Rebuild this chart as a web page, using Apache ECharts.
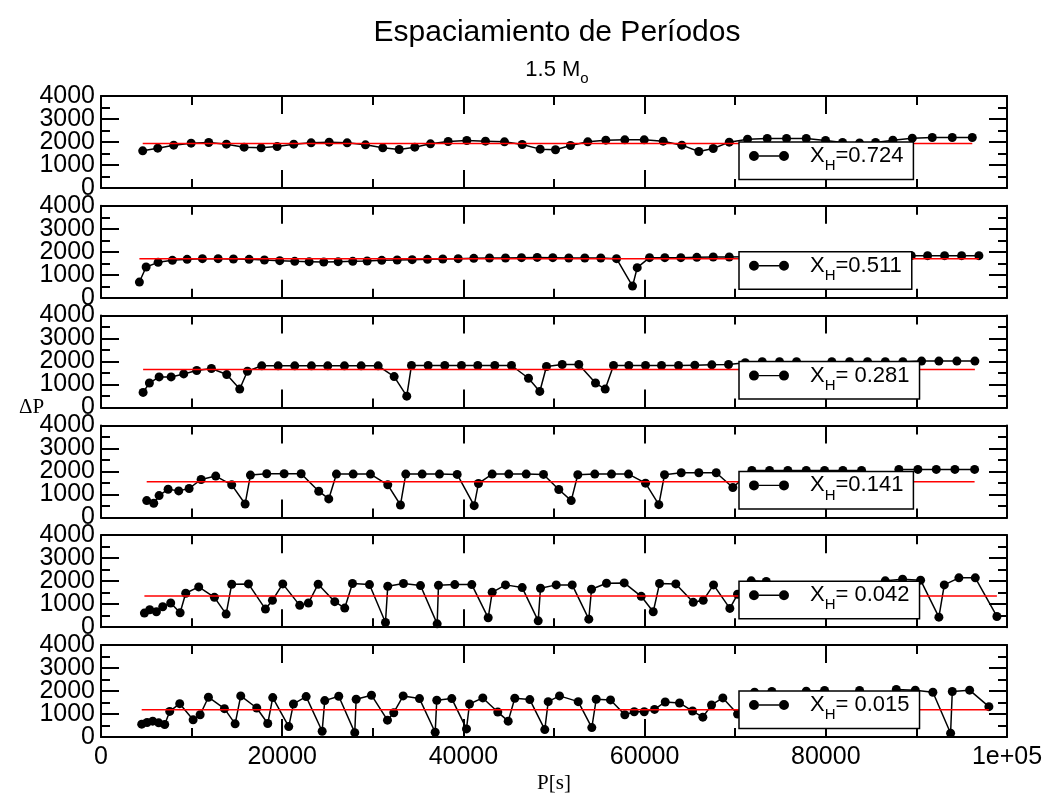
<!DOCTYPE html>
<html>
<head>
<meta charset="utf-8">
<script src="https://cdn.jsdelivr.net/npm/echarts@6/dist/echarts.min.js"></script>
<style>
html, body { margin: 0; padding: 0; background: #fff; }
#chart { width: 1049px; height: 801px; }
</style>
</head>
<body>
<div id="chart"></div>
<script>
// Hydrogen abundance of each model (legend labels)
const xhLabels = ['0.724', '0.511', ' 0.281', '0.141', ' 0.042', ' 0.015'];

// Mean period spacing of each model (red reference line)
const meanSpacing = [1935, 1702, 1655, 1548, 1358, 1180];

// Tick labels
const xTickLabels = ['0', '20000', '40000', '60000', '80000', '1e+05'];
const yTicksEven = [0, 2000, 4000];
const yTicksOdd = [1000, 3000];

// Periods P[s] and period spacings ΔP for each model
const periods1 = [4604, 6260, 8026, 9947, 11890, 13844, 15798, 17675, 19441, 21274, 23195, 25182, 27169, 29190, 31100, 32910, 34632, 36366, 38320, 40373, 42438, 44535, 46489, 48477, 50166, 51822, 53732, 55719, 57816, 59958, 62056, 64109, 65986, 67576, 69342, 71363, 73537, 75668, 77843, 79974, 81851, 83727, 85494, 87404, 89545, 91753, 93961, 96169];
const spacing1 = [1617, 1733, 1863, 1949, 1978, 1906, 1776, 1747, 1805, 1906, 1964, 1993, 1964, 1877, 1747, 1675, 1776, 1921, 2022, 2065, 2036, 2007, 1892, 1690, 1661, 1848, 2007, 2079, 2094, 2094, 2036, 1863, 1588, 1718, 1993, 2123, 2152, 2152, 2152, 2065, 1980, 1960, 1978, 2079, 2166, 2195, 2195, 2195];

const periods2 = [4239, 4979, 6304, 7883, 9505, 11195, 12928, 14617, 16350, 18039, 19728, 21384, 22974, 24586, 26176, 27788, 29377, 30989, 32689, 34345, 36035, 37724, 39424, 41146, 42879, 44646, 46412, 48145, 49868, 51634, 53400, 55167, 56900, 58667, 59185, 60543, 62233, 64000, 65765, 67576, 69342, 71164, 72996, 74818, 76651, 78472, 80305, 82127, 83959, 85781, 87613, 89435, 91235, 93111, 94988, 96898];
const spacing2 = [684, 1339, 1542, 1630, 1673, 1702, 1702, 1688, 1673, 1644, 1615, 1586, 1571, 1557, 1571, 1586, 1600, 1630, 1644, 1659, 1673, 1688, 1702, 1717, 1731, 1731, 1746, 1755, 1745, 1731, 1731, 1731, 1702, 509, 1309, 1746, 1746, 1746, 1760, 1775, 1775, 1780, 1785, 1790, 1795, 1800, 1805, 1810, 1815, 1820, 1825, 1833, 1833, 1833, 1833, 1833];

const periods3 = [4648, 5343, 6414, 7739, 9130, 10565, 12188, 13877, 15312, 16163, 17741, 19552, 21384, 23228, 25028, 26871, 28715, 30592, 32358, 33749, 34268, 36112, 37944, 39788, 41588, 43464, 45308, 47185, 48432, 49172, 50905, 52738, 54582, 55653, 56569, 58258, 60102, 61868, 63745, 65544, 67421, 69265, 71109, 72985, 74895, 76772, 78649, 80669, 82623, 84611, 86565, 88508, 90572, 92482, 94469, 96456];
const spacing3 = [659, 1069, 1333, 1333, 1465, 1612, 1699, 1436, 806, 1582, 1817, 1817, 1817, 1817, 1817, 1817, 1817, 1817, 1348, 498, 1831, 1831, 1831, 1831, 1831, 1831, 1831, 1275, 703, 1787, 1875, 1875, 1069, 806, 1831, 1831, 1831, 1831, 1831, 1846, 1860, 1875, 1950, 1992, 1992, 1992, 1700, 1992, 1992, 1992, 1992, 1992, 2022, 2022, 2022, 2022];

const periods4 = [5045, 5818, 6414, 7408, 8578, 9726, 11051, 12663, 14429, 15909, 16494, 18293, 20214, 22091, 24034, 25138, 25988, 27832, 29742, 31652, 33054, 33639, 35449, 37359, 39313, 41190, 41665, 43177, 45010, 46931, 48841, 50530, 51899, 52628, 54504, 56348, 58225, 60102, 61570, 62199, 64043, 65986, 67907, 69740, 71837, 73791, 75812, 77843, 79863, 81884, 83948, 86013, 88066, 90164, 92195, 94248, 96423];
const spacing4 = [730, 613, 949, 1226, 1153, 1256, 1650, 1796, 1416, 584, 1840, 1898, 1898, 1898, 1139, 803, 1883, 1883, 1883, 1416, 540, 1883, 1883, 1883, 1869, 511, 1475, 1883, 1883, 1883, 1869, 1212, 730, 1854, 1883, 1883, 1883, 1489, 555, 1854, 1942, 1942, 1942, 1299, 2044, 2044, 2044, 2044, 2044, 2044, 2044, 1400, 2088, 2088, 2088, 2088, 2088];

const periods5 = [4791, 5376, 6116, 6812, 7695, 8733, 9351, 10786, 12519, 13811, 14429, 16273, 18150, 18923, 20060, 21936, 22897, 23968, 25800, 26904, 27755, 29631, 31398, 31652, 33385, 35262, 37105, 37249, 39048, 40925, 42736, 43177, 44646, 46489, 48256, 48510, 50243, 52009, 53842, 54140, 55796, 57750, 59627, 60952, 61647, 63447, 65368, 66472, 67609, 69408, 70259, 71771, 73427, 75260, 77103, 78947, 80780, 82811, 84644, 86565, 88475, 90462, 92482, 93078, 94690, 96501, 98885];
const spacing5 = [613, 759, 672, 891, 1051, 628, 1475, 1752, 1299, 569, 1869, 1883, 788, 1168, 1883, 949, 1051, 1869, 1110, 832, 1898, 1854, 204, 1781, 1898, 1810, 146, 1825, 1854, 1854, 409, 1518, 1840, 1723, 277, 1694, 1840, 1840, 350, 1650, 1913, 1927, 1343, 672, 1898, 1883, 1080, 1168, 1840, 818, 1431, 2015, 1986, 1100, 1700, 900, 1500, 1750, 1200, 2015, 2088, 2044, 438, 1840, 2146, 2146, 467];

const periods6 = [4493, 5089, 5708, 6370, 7032, 7584, 8688, 10168, 10941, 11857, 13623, 14805, 15423, 17189, 18404, 18956, 20722, 21241, 22643, 24409, 24696, 26242, 28008, 28163, 29852, 31619, 32314, 33352, 35151, 36885, 37061, 38717, 40340, 40671, 42140, 43796, 44944, 45672, 47329, 48984, 49360, 50607, 52672, 54173, 54659, 56238, 57816, 58854, 59958, 61095, 62277, 63855, 65291, 66428, 67388, 68636, 70259, 72135, 74045, 76003, 77843, 79863, 81707, 83727, 85748, 87779, 89877, 91820, 93774, 93961, 95871, 98002];
const spacing6 = [557, 630, 689, 615, 542, 1113, 1450, 747, 967, 1729, 1231, 571, 1787, 1260, 586, 1714, 454, 1436, 1758, 249, 1582, 1773, 190, 1641, 1817, 733, 1055, 1787, 1670, 205, 1597, 1670, 352, 1436, 1699, 1084, 689, 1685, 1626, 322, 1538, 1787, 1538, 410, 1641, 1612, 967, 1099, 1099, 1201, 1524, 1480, 1128, 864, 1392, 1699, 996, 1948, 1978, 1300, 1992, 2022, 1400, 2022, 1200, 2066, 2036, 1948, 161, 1978, 2036, 1318];

const periodSets = [periods1, periods2, periods3, periods4, periods5, periods6];
const spacingSets = [spacing1, spacing2, spacing3, spacing4, spacing5, spacing6];

const SANS = 'Liberation Sans, Arial, Helvetica, sans-serif';
const SERIF = 'Liberation Serif, Times New Roman, serif';

const PANEL_TOP = 96, PANEL_STEP = 109.8, PANEL_H = 92;
const PLOT_LEFT = 101, PLOT_RIGHT = 42;

const frame = { color: '#000', width: 2 };
const yLabelStyle = { color: '#000', fontSize: 25, fontFamily: SANS, margin: 6,
  showMinLabel: true, showMaxLabel: true, hideOverlap: false, formatter: v => String(v) };

const grids = [], xAxes = [], yAxes = [], series = [], legends = [];

periodSets.forEach((P, i) => {
  const top = PANEL_TOP + i * PANEL_STEP;
  grids.push({ left: PLOT_LEFT, right: PLOT_RIGHT, top: top, height: PANEL_H });

  const isLast = i === periodSets.length - 1;
  ['bottom', 'top'].forEach(pos => {
    xAxes.push({
      gridIndex: i, type: 'value', position: pos,
      min: 0, max: 100000, interval: 20000,
      axisLine: { show: true, onZero: false, lineStyle: frame },
      axisTick: { show: true, inside: true, length: 18, lineStyle: frame },
      minorTick: { show: true, splitNumber: 2, length: 9, lineStyle: frame },
      splitLine: { show: false },
      axisLabel: {
        show: isLast && pos === 'bottom', color: '#000', fontSize: 25, fontFamily: SANS, margin: 8,
        showMinLabel: true, showMaxLabel: true, hideOverlap: false,
        formatter: v => xTickLabels[Math.round(v / 20000)]
      },
      name: isLast && pos === 'bottom' ? 'P[s]' : '',
      nameLocation: 'middle', nameGap: 36,
      nameTextStyle: { color: '#000', fontSize: 21, fontFamily: SERIF }
    });
  });

  // left frame axis (ticks + labels 0/2000/4000), right frame axis, and a
  // line-less left axis carrying the 1000/3000 labels
  yAxes.push({
    gridIndex: i, type: 'value', position: 'left',
    min: 0, max: 4000, interval: 1000,
    axisLine: { show: true, onZero: false, lineStyle: frame },
    axisTick: { show: true, inside: true, length: 18, lineStyle: frame },
    minorTick: { show: true, splitNumber: 2, length: 9, lineStyle: frame },
    splitLine: { show: false },
    axisLabel: Object.assign({ customValues: yTicksEven }, yLabelStyle)
  });
  yAxes.push({
    gridIndex: i, type: 'value', position: 'right',
    min: 0, max: 4000, interval: 1000,
    axisLine: { show: true, onZero: false, lineStyle: frame },
    axisTick: { show: true, inside: true, length: 18, lineStyle: frame },
    minorTick: { show: true, splitNumber: 2, length: 9, lineStyle: frame },
    splitLine: { show: false },
    axisLabel: { show: false }
  });
  yAxes.push({
    gridIndex: i, type: 'value', position: 'left', offset: 0,
    min: 0, max: 4000, interval: 1000,
    axisLine: { show: false, onZero: false },
    axisTick: { show: false },
    minorTick: { show: false },
    splitLine: { show: false },
    axisLabel: Object.assign({ customValues: yTicksOdd }, yLabelStyle)
  });

  const S = spacingSets[i];
  const name = 'XH' + i;
  series.push({
    name: name, type: 'line',
    xAxisIndex: 2 * i, yAxisIndex: 3 * i,
    data: P.map((p, k) => [p, S[k]]),
    symbol: 'circle', symbolSize: 9,
    itemStyle: { color: '#000' },
    lineStyle: { color: '#000', width: 1.5 },
    z: 3, animation: false
  });
  series.push({
    type: 'line',
    xAxisIndex: 2 * i, yAxisIndex: 3 * i,
    data: [[P[0], meanSpacing[i]], [P[P.length - 1], meanSpacing[i]]],
    symbol: 'none',
    lineStyle: { color: '#ff0000', width: 1.5 },
    z: 4, silent: true, animation: false
  });
  legends.push({
    data: [name],
    left: 739, top: top + 46,
    orient: 'horizontal',
    selectedMode: false,
    backgroundColor: '#fff', borderColor: '#000', borderWidth: 1.5,
    padding: [3, 10, 6, 10],
    itemWidth: 40, itemHeight: 10,
    icon: 'path://M0,5a5,5 0 1,0 10,0a5,5 0 1,0 -10,0ZM30,5a5,5 0 1,0 10,0a5,5 0 1,0 -10,0ZM10,4.3H30V5.7H10Z',
    itemStyle: { color: '#000', borderWidth: 0 },
    formatter: () => '{g|}{x|X}{h|H}{x|=' + xhLabels[i] + '}',
    textStyle: {
      color: '#000',
      rich: {
        g: { width: 16 },
        x: { fontSize: 22, fontFamily: SANS, color: '#000' },
        h: { fontSize: 15, fontFamily: SANS, color: '#000', padding: [20, 0, 0, 0] }
      }
    },
    z: 10
  });
});

const chart = echarts.init(document.getElementById('chart'), null, { renderer: 'canvas' });
chart.setOption({
  backgroundColor: '#fff',
  animation: false,
  title: [
    {
      text: 'Espaciamiento de Períodos', left: 552, top: 13, textAlign: 'center',
      textStyle: { color: '#000', fontSize: 30, fontWeight: 'normal', fontFamily: SANS }
    },
    {
      text: '{a|1.5 M}{b|o}', left: 552, top: 49, textAlign: 'center',
      textStyle: {
        fontWeight: 'normal',
        rich: {
          a: { fontSize: 22, fontWeight: 'normal', fontFamily: SANS, color: '#000' },
          b: { fontSize: 15, fontWeight: 'normal', fontFamily: SANS, color: '#000', padding: [17, 0, 0, 0] }
        }
      }
    },
    {
      text: 'ΔP', left: 14, top: 392,
      textStyle: { color: '#000', fontSize: 21, fontWeight: 'normal', fontFamily: SERIF }
    }
  ],
  grid: grids,
  xAxis: xAxes,
  yAxis: yAxes,
  legend: legends,
  series: series
});
</script>
</body>
</html>
